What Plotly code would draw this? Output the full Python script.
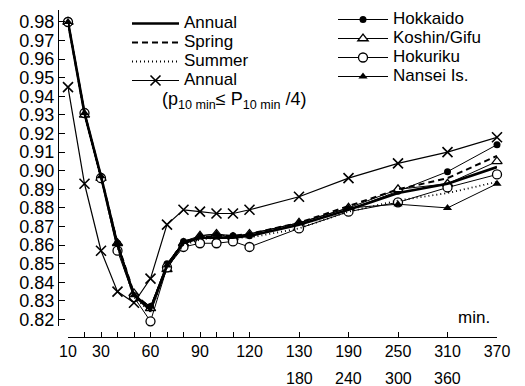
import plotly.graph_objects as go

# ---- data -------------------------------------------------------------
minutes = ["10", "20", "30", "40", "50", "60", "70", "80", "90", "100", "110", "120",
           "130–180", "190–240", "250–300", "310–360", "370"]
top_labels = ["10", "", "30", "", "", "60", "", "", "90", "", "", "120",
              "130", "190", "250", "310", "370"]
bottom_labels = ["", "", "", "", "", "", "", "", "", "", "", "",
                 "180", "240", "300", "360", ""]

annual = [0.980, 0.931, 0.897, 0.860, 0.833, 0.825, 0.849, 0.861, 0.864, 0.864, 0.864, 0.865,
          0.871, 0.879, 0.888, 0.893, 0.902]
spring = [0.980, 0.931, 0.897, 0.861, 0.834, 0.826, 0.849, 0.862, 0.864, 0.865, 0.865, 0.866,
          0.872, 0.881, 0.890, 0.896, 0.908]
summer = [0.980, 0.930, 0.896, 0.859, 0.832, 0.824, 0.848, 0.860, 0.863, 0.864, 0.864, 0.864,
          0.869, 0.878, 0.884, 0.888, 0.894]
annual_quarter = [0.945, 0.893, 0.857, 0.835, 0.829, 0.842, 0.871, 0.879, 0.878, 0.877, 0.877, 0.879,
                  0.886, 0.896, 0.904, 0.910, 0.918]
hokkaido = [0.981, 0.932, 0.897, 0.861, 0.833, 0.827, 0.850, 0.862, 0.864, 0.864, 0.865, 0.865,
            0.871, 0.879, 0.889, 0.8995, 0.914]
koshin_gifu = [0.980, 0.930, 0.896, 0.861, 0.834, 0.826, 0.847, 0.861, 0.865, 0.866, 0.864, 0.866,
               0.872, 0.880, 0.890, 0.893, 0.905]
hokuriku = [0.980, 0.931, 0.896, 0.857, 0.832, 0.819, 0.848, 0.859, 0.861, 0.861, 0.862, 0.859,
            0.869, 0.878, 0.883, 0.891, 0.898]
nansei = [0.980, 0.931, 0.897, 0.861, 0.833, 0.827, 0.849, 0.862, 0.865, 0.866, 0.865, 0.866,
          0.872, 0.880, 0.882, 0.880, 0.893]

y_ticks = [0.82 + 0.01 * i for i in range(17)]

# ---- layout helpers -----------------------------------------------------
# first 12 durations are evenly spaced, the grouped ones take 3 units each
pos = [i if i < 12 else 11 + 3 * (i - 11) for i in range(len(minutes))]
X_MAX = pos[-1]
Y_RANGE = [0.8165, 0.98645]

FONT = "Liberation Sans, Arial, Helvetica, sans-serif"
BIG = 'font-size:17px'

W, H = 525, 386
ML, MR, MT, MB = 58, 28, 10, 49
PW, PH = W - ML - MR, H - MT - MB
Y_TOP_PX, Y_BOT_PX = 10, 326


def px_x(p):
    return (p - ML) / PW


def px_y(p):
    return (H - MB - p) / PH


def yval_at_px(p):
    # value of the y axis scale at a given pixel row (extended below the axis)
    return Y_RANGE[1] - (p - Y_TOP_PX) * (Y_RANGE[1] - Y_RANGE[0]) / (Y_BOT_PX - Y_TOP_PX)


def lname(t):
    return f'<span style="{BIG}">{t}</span>'


fig = go.Figure()


def add(y, name, legend, line, marker=None, mode="lines"):
    fig.add_trace(go.Scatter(
        x=pos, y=y, name=lname(name), legend=legend, mode=mode,
        line=line, marker=marker, cliponaxis=False, customdata=minutes,
        hovertemplate="%{customdata} min: %{y:.3f}<extra></extra>"))


# regional series (thin)
add(hokkaido, "Hokkaido", "legend2", dict(color="black", width=1),
    dict(symbol="circle", size=7, color="black"), "lines+markers")
add(koshin_gifu, "Koshin/Gifu", "legend2", dict(color="black", width=1),
    dict(symbol="triangle-up", size=9, color="white", line=dict(color="black", width=1.3)),
    "lines+markers")
add(hokuriku, "Hokuriku", "legend2", dict(color="black", width=1),
    dict(symbol="circle", size=9, color="white", line=dict(color="black", width=1.3)),
    "lines+markers")
add(nansei, "Nansei Is.", "legend2", dict(color="black", width=1),
    dict(symbol="triangle-up", size=8, color="black"), "lines+markers")

# national series
add(annual, "Annual", "legend", dict(color="black", width=2.6))
add(spring, "Spring", "legend", dict(color="black", width=2, dash="6px,4px"))
add(summer, "Summer", "legend", dict(color="black", width=1.8, dash="1px,3px"))
add(annual_quarter, "Annual", "legend", dict(color="black", width=1.2),
    dict(symbol="x-thin", size=10, color="black", line=dict(color="black", width=1.6)),
    "lines+markers")

# short bars joining the two rows of the grouped tick labels (axis decoration)
group_pos = [p for p in pos if p >= 14]
fig.add_trace(go.Scatter(
    x=group_pos, y=[yval_at_px(364)] * len(group_pos), mode="markers",
    marker=dict(symbol="line-ns", size=6, color="black",
                line=dict(color="black", width=1)),
    cliponaxis=False, showlegend=False, hoverinfo="skip"))

annotations = [
    dict(text="(p<sub>10 min</sub>≤ P<sub>10 min</sub> /4)", xref="paper", yref="paper",
         x=px_x(160), y=px_y(100), xanchor="left", yanchor="middle", showarrow=False,
         font=dict(size=18, family=FONT, color="black")),
    dict(text="min.", xref="paper", yref="paper", x=px_x(474), y=px_y(317),
         xanchor="center", yanchor="middle", showarrow=False,
         font=dict(size=17, family=FONT, color="black")),
]
for p, lab in zip(pos, bottom_labels):
    if lab:
        annotations.append(dict(text=lab, xref="x", yref="paper", x=p, y=px_y(378.5),
                                xanchor="center", yanchor="middle", showarrow=False,
                                font=dict(size=16, family=FONT, color="black")))

fig.update_layout(
    width=W, height=H,
    margin=dict(l=ML, r=MR, t=MT, b=MB, autoexpand=False),
    paper_bgcolor="white", plot_bgcolor="white",
    font=dict(family=FONT, color="black"),
    showlegend=True,
    legend=dict(x=px_x(127), y=px_y(9), xanchor="left", yanchor="top",
                font=dict(size=11, family=FONT, color="black"),
                bgcolor="rgba(0,0,0,0)", itemwidth=47, tracegroupgap=0),
    legend2=dict(x=px_x(333), y=px_y(5), xanchor="left", yanchor="top",
                 font=dict(size=11, family=FONT, color="black"),
                 bgcolor="rgba(0,0,0,0)", itemwidth=50, tracegroupgap=0),
    xaxis=dict(domain=[px_x(68), 1], range=[0, X_MAX], anchor="free", position=0,
               showline=True, linecolor="black", linewidth=1.2,
               ticks="inside", ticklen=5, tickcolor="black", tickwidth=1.2,
               tickvals=pos, ticktext=top_labels, tickangle=0,
               tickfont=dict(size=16, family=FONT, color="black"),
               showgrid=False, zeroline=False, automargin=False),
    yaxis=dict(domain=[px_y(Y_BOT_PX), 1], range=Y_RANGE, anchor="free", position=0,
               showline=True, linecolor="black", linewidth=1.2,
               ticks="inside", ticklen=6, tickcolor="black", tickwidth=1.2,
               tickvals=y_ticks, tickformat=".2f",
               tickfont=dict(size=18, family=FONT, color="black"),
               showgrid=False, zeroline=False, automargin=False),
    annotations=annotations,
)

fig.write_html("out.html", config={"displayModeBar": False},
               post_script="document.body.style.margin='0';document.body.style.overflow='hidden';")
